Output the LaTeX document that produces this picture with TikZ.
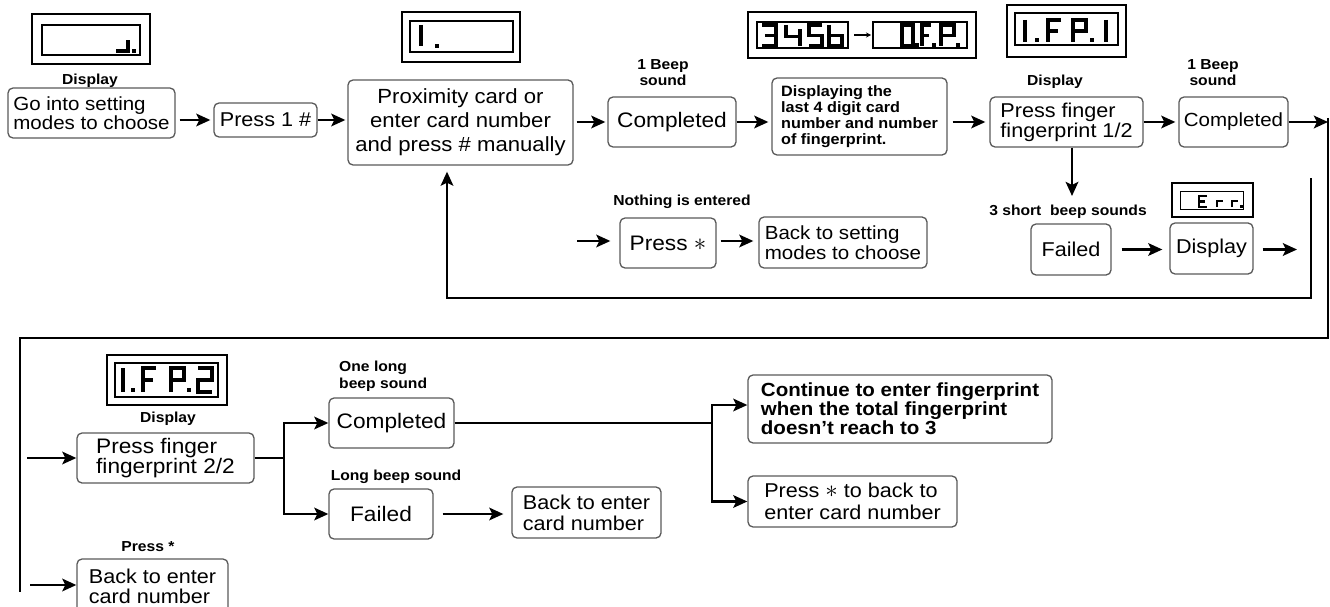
\documentclass[tikz,border=0pt]{standalone}
\usepackage{fontspec}
\setmainfont{Liberation Sans}[FakeStretch=1.08]
\usetikzlibrary{arrows.meta}
\newcommand\dg[5]{\begin{scope}[shift={(#1,#2)},xscale=#3,yscale=#4]\draw[seg] #5;\end{scope}}
\newcommand\dt[2]{\fill ({#1-1.8},{#2-1.8}) rectangle ({#1+1.8},{#2+1.8});}
\newcommand\bigast{{\fontsize{29}{20}\selectfont$\ast$}}
\tikzset{
 box/.style={draw=black!65, line width=1.3pt, rounded corners=5pt, inner sep=2pt, align=center},
 lbl/.style={font={\fontsize{14.5}{16}\selectfont\bfseries}, align=center, inner sep=0pt},
 conn/.style={line width=2.8pt, -{Stealth[length=14pt,width=12.5pt,inset=3pt]}},
 wire/.style={line width=2.8pt},
 lcdo/.style={draw, line width=2.6pt},
 lcdi/.style={draw, line width=1.5pt},
 seg/.style={line width=3.4pt, line cap=butt},
}
\begin{document}
\begin{tikzpicture}[x=1pt,y=-1pt]
\useasboundingbox (0,0) rectangle (1330,607);

% ---------------- row 1 boxes
\node[box, minimum width=167pt, minimum height=50pt, align=left, font={\fontsize{19}{18.5}\selectfont}] (go) at (91.5,113) {Go into setting\\modes to choose};
\node[box, minimum width=103pt, minimum height=34pt, font={\fontsize{20}{20}\selectfont}] (p1) at (265.5,120) {Press 1 \#};
\node[box, minimum width=225pt, minimum height=85pt, font={\fontsize{20.5}{24}\selectfont}] (prox) at (460.5,122.5) {Proximity card or\\enter card number\\and press \# manually};
\node[box, minimum width=128pt, minimum height=50pt, font={\fontsize{21}{20}\selectfont}] (comp1) at (672,122) {Completed};
\node[box, minimum width=175pt, minimum height=77pt, align=left, font={\fontsize{15}{16}\selectfont\bfseries}] (disp) at (859.5,116.5) {Displaying the\\last 4 digit card\\number and number\\of fingerprint.};
\node[box, minimum width=153pt, minimum height=50pt, align=left, font={\fontsize{20}{20}\selectfont}] (pf1) at (1066.5,122) {Press finger\\fingerprint 1/2};
\node[box, minimum width=109pt, minimum height=50pt, font={\fontsize{19}{20}\selectfont}] (comp2) at (1233.5,122) {Completed};
\node[box, minimum width=96pt, minimum height=50pt, font={\fontsize{21}{20}\selectfont}] (pstar) at (668,243) {Press \bigast};
\node[box, minimum width=168pt, minimum height=51pt, align=left, font={\fontsize{19}{20}\selectfont}] (backset) at (843,242.5) {Back to setting\\modes to choose};
\node[box, minimum width=80pt, minimum height=51pt, font={\fontsize{20}{20}\selectfont}] (fail1) at (1071,249.5) {Failed};
\node[box, minimum width=83pt, minimum height=51pt, font={\fontsize{20}{20}\selectfont}] (dispE) at (1211.5,248.5) {Display};

% ---------------- row 2 boxes
\node[box, minimum width=177pt, minimum height=50pt, align=left, font={\fontsize{21}{20}\selectfont}] (pf2) at (165.5,458) {Press finger\\fingerprint 2/2};
\node[box, minimum width=125pt, minimum height=50pt, font={\fontsize{21}{20}\selectfont}] (comp3) at (391.5,423) {Completed};
\node[box, minimum width=104pt, minimum height=50pt, font={\fontsize{21}{20}\selectfont}] (fail2) at (381,514) {Failed};
\node[box, minimum width=149pt, minimum height=51pt, align=left, font={\fontsize{20}{21}\selectfont}] (back2) at (586.5,512.5) {Back to enter\\card number};
\node[box, minimum width=304pt, minimum height=68pt, align=left, font={\fontsize{19}{17}\selectfont\bfseries}] (cont) at (900,409) {Continue to enter fingerprint\\when the total fingerprint\\doesn't reach to 3};
\node[box, minimum width=209pt, minimum height=51pt, align=left, font={\fontsize{20}{22}\selectfont}] (pstar2) at (852.5,501.5) {Press \bigast\ to back to\\enter card number};
\node[box, minimum width=151pt, minimum height=54pt, align=left, font={\fontsize{20}{20}\selectfont}] (back3) at (152.5,586) {Back to enter\\card number};

% ---------------- labels
\node[lbl] (l1) at (90,81) {Display};
\node[lbl] (l2) at (663,73) {1 Beep\\sound};
\node[lbl] (l3) at (1055,82) {Display};
\node[lbl] (l4) at (1213,73) {1 Beep\\sound};
\node[lbl] (l5) at (682,202) {Nothing is entered};
\node[lbl] (l6) at (1068,212) {3 short\ \ beep sounds};
\node[lbl] (l7) at (168,419) {Display};
\node[lbl, anchor=west, align=left, font={\fontsize{14.5}{17}\selectfont\bfseries}] (l8) at (339,376.5) {One long\\beep sound};
\node[lbl] (l9) at (396,477) {Long beep sound};
\node[lbl] (l10) at (148,547) {Press *};

% ---------------- LCD displays
% 1
\draw[lcdo] (32,14) rectangle (150,64);
\draw[lcdi] (42,25) rectangle (140,55);
\draw[seg] (116,51)--(128,51)--(128,40);
\dt{134}{51}
% 2
\draw[lcdo] (402,12) rectangle (520,62);
\draw[lcdi] (410,21) rectangle (513,52);
\draw[seg] (421,25)--(421,46);
\dt{437}{46}
% 3
\draw[lcdo] (748,12) rectangle (976,58);
\draw[lcdi] (757,22) rectangle (848,48);
\draw[lcdi] (873,22) rectangle (967,48);
\draw[line width=1.2pt, -{Stealth[length=5pt,width=5pt]}] (854,35) -- (871,35);
\dg{762}{25}{14}{21}{(0,0)--(1,0)--(1,1)--(0,1) (0.2,.5)--(1,.5)}
\dg{786}{25}{14}{21}{(0,0)--(0,.55)--(1,.55) (1,.2)--(1,1)}
\dg{809}{25}{13}{21}{(1,0)--(0,0)--(0,.5)--(1,.5)--(1,1)--(0,1)}
\dg{829}{25}{13}{21}{(0,0)--(0,1)--(1,1)--(1,.5)--(0,.5)}
\dg{902}{25}{11}{21}{(0,0)--(1,0)--(1,1)--(0,1)--cycle}
\dt{917}{45}
\dg{922}{25}{9}{21}{(1,0)--(0,0)--(0,1) (0,.5)--(.8,.5)}
\dt{934}{45}
\dg{941}{25}{13}{21}{(0,1)--(0,0)--(1,0)--(1,.5)--(0,.5)}
\dt{958}{45}
% 4
\draw[lcdo] (1007,5) rectangle (1126,57);
\draw[lcdi] (1015,13) rectangle (1118,45);
\draw[seg] (1025,20)--(1025,42);
\dt{1037}{40}
\dg{1048}{20}{13}{22}{(1,0)--(0,0)--(0,1) (0,.5)--(.8,.5)}
\dg{1073}{20}{13}{22}{(0,1)--(0,0)--(1,0)--(1,.5)--(0,.5)}
\dt{1092}{40}
\draw[seg] (1106,20)--(1106,42);
% 5 (Err)
\draw[lcdi] (1172,183) rectangle (1253,217);
\draw[line width=1pt] (1180,191) rectangle (1243,209);
\begin{scope}[seg/.style={line width=2.2pt}]
\dg{1199}{196}{8}{11}{(1,0)--(0,0)--(0,1)--(1,1) (0,.5)--(.8,.5)}
\dg{1217}{201}{6}{6}{(0,1)--(0,0)--(1,0)}
\dg{1232}{201}{6}{6}{(0,1)--(0,0)--(1,0)}
\fill (1240,205) rectangle (1242.5,207.5);
\end{scope}
% 6
\draw[lcdo] (107,355) rectangle (227,405);
\draw[lcdi] (115,363) rectangle (218,397);
\draw[seg] (123,368)--(123,392);
\dt{133}{390}
\dg{143}{368}{13}{24}{(1,0)--(0,0)--(0,1) (0,.5)--(.8,.5)}
\dg{171}{368}{13}{24}{(0,1)--(0,0)--(1,0)--(1,.5)--(0,.5)}
\dt{189}{390}
\dg{198}{368}{14}{24}{(0,0)--(1,0)--(1,.5)--(0,.5)--(0,1)--(1,1)}

% ---------------- connectors row 1
\draw[conn, shorten <=4pt, shorten >=3pt] (go.east |- p1.west) -- (p1.west);
\draw[conn, shorten >=2pt] (p1.east) -- (p1.east -| prox.west);
\draw[conn, shorten <=3pt, shorten >=2pt] (prox.east |- comp1.west) -- (comp1.west);
\draw[conn, shorten >=3pt] (comp1.east) -- (comp1.east -| disp.west);
\draw[conn, shorten <=5pt, shorten >=4pt] (disp.east |- pf1.west) -- (pf1.west);
\draw[conn, shorten >=3pt] (pf1.east) -- (comp2.west);

\coordinate (rt) at (1328,118);
\coordinate (rb) at (1328,338);
\coordinate (lb) at (20,338);
\coordinate (le) at (20,592);
\draw[conn] (comp2.east) -- (comp2.east -| rt);
\draw[wire] (rt) -- (rb) -- (lb) -- (le);

\coordinate (fd) at (1072,196);
\draw[conn] (pf1.south -| fd) -- (fd);
\draw[conn, shorten <=10pt, shorten >=7pt] (fail1.east) -- (fail1.east -| dispE.west);
\coordinate (ea) at (1297,249.5);
\draw[conn, shorten <=9pt] (dispE.east |- ea) -- (ea);

\coordinate (lt) at (1311,178);
\coordinate (lx) at (447,298);
\draw[conn, shorten >=6pt] (lt) |- (lx) -- (prox.south -| lx);

\coordinate (na) at (577,241);
\draw[conn, shorten >=9pt] (na) -- (na -| pstar.west);
\draw[conn, shorten <=4pt, shorten >=5pt] (pstar.east |- na) -- (na -| backset.west);

% ---------------- connectors row 2
\coordinate (a1) at (27,458);
\draw[conn] (a1) -- (a1 -| pf2.west);
\coordinate (a2) at (30,585);
\draw[conn] (a2) -- (a2 -| back3.west);

\coordinate (j1) at (284,458);
\draw[conn] (pf2.east) -- (j1) |- (comp3.west);
\draw[conn] (j1) |- (fail2.west);
\draw[conn, shorten <=9pt, shorten >=8pt] (fail2.east) -- (fail2.east -| back2.west);

\coordinate (j2) at (712,423);
\draw[conn] (comp3.east) -- (j2) |- ([yshift=4pt]cont.west);
\draw[conn] (j2) |- (pstar2.west);
\end{tikzpicture}
\end{document}
